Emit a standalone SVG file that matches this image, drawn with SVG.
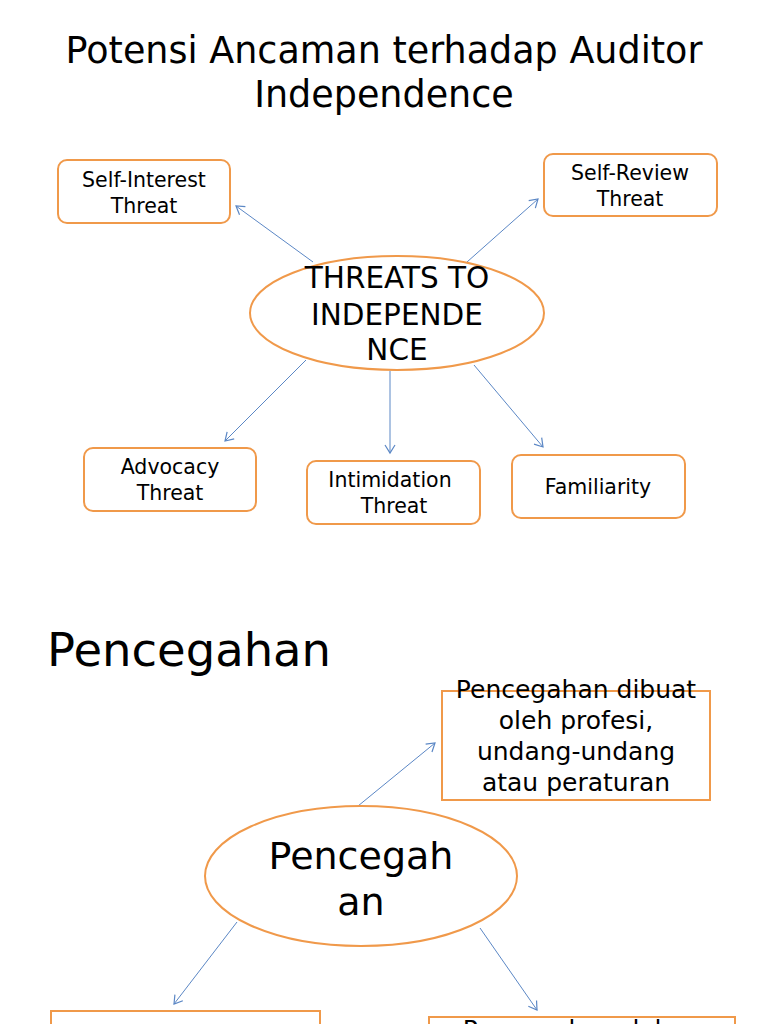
<svg xmlns="http://www.w3.org/2000/svg" width="768" height="1024" viewBox="0 0 768 1024">
<style>
text{font-family:"DejaVu Sans",sans-serif;fill:#000;text-anchor:middle}
.b{fill:#fff;stroke:#f0994a;stroke-width:2}
.c line{stroke:#5b87c5;stroke-width:1;marker-end:url(#a)}
.s{font-size:20.5px}.m{font-size:25px}
</style>
<defs><marker id="a" markerWidth="12" markerHeight="12" refX="10" refY="6" orient="auto" markerUnits="userSpaceOnUse"><path d="M2,1 L10,6 L2,11" fill="none" stroke="#5b87c5" stroke-width="1.2"/></marker></defs>
<rect width="768" height="1024" fill="#fff"/>
<text x="384" y="63" font-size="36.5">Potensi Ancaman terhadap Auditor</text>
<text x="384" y="107" font-size="36.5">Independence</text>
<text x="47" y="666" font-size="46.5" style="text-anchor:start">Pencegahan</text>
<g class="c">
<line x1="313" y1="262" x2="236" y2="206"/>
<line x1="467" y1="262" x2="538" y2="199"/>
<line x1="306" y1="360" x2="225" y2="441"/>
<line x1="390" y1="371" x2="390" y2="453"/>
<line x1="474" y1="365" x2="543" y2="447"/>
<line x1="358" y1="806" x2="435" y2="743"/>
<line x1="237" y1="922" x2="174" y2="1004"/>
<line x1="480" y1="928" x2="537" y2="1010"/>
</g>
<g id="n1"><rect class="b" x="58" y="160" width="172" height="63" rx="9"/><text class="s" x="144" y="187">Self-Interest</text><text class="s" x="144" y="213">Threat</text></g>
<g id="n2"><rect class="b" x="544" y="154" width="173" height="62" rx="9"/><text class="s" x="630" y="180">Self-Review</text><text class="s" x="630" y="206">Threat</text></g>
<g id="n3"><ellipse class="b" cx="397" cy="313" rx="147" ry="57"/><text x="397" y="288" font-size="29.5">THREATS TO</text><text x="397" y="325" font-size="29.5">INDEPENDE</text><text x="397" y="360" font-size="29.5">NCE</text></g>
<g id="n4"><rect class="b" x="84" y="448" width="172" height="63" rx="9"/><text class="s" x="170" y="474">Advocacy</text><text class="s" x="170" y="500">Threat</text></g>
<g id="n5"><rect class="b" x="307" y="461" width="173" height="63" rx="9"/><text class="s" x="390" y="487">Intimidation</text><text class="s" x="394" y="513">Threat</text></g>
<g id="n6"><rect class="b" x="512" y="455" width="173" height="63" rx="9"/><text class="s" x="598" y="494">Familiarity</text></g>
<g id="n7"><rect class="b" x="442" y="691" width="268" height="109"/><text class="m" x="576" y="698">Pencegahan dibuat</text><text class="m" x="576" y="729">oleh profesi,</text><text class="m" x="576" y="760">undang-undang</text><text class="m" x="576" y="791">atau peraturan</text></g>
<g id="n8"><ellipse class="b" cx="361" cy="876" rx="156" ry="70"/><text x="361" y="869" font-size="38">Pencegah</text><text x="361" y="915" font-size="38">an</text></g>
<g id="n9"><rect class="b" x="51" y="1011" width="269" height="40"/></g>
<g id="n10"><rect class="b" x="429" y="1017" width="306" height="40"/><text class="m" x="582" y="1038">Pencegahan dalam</text></g>
</svg>
